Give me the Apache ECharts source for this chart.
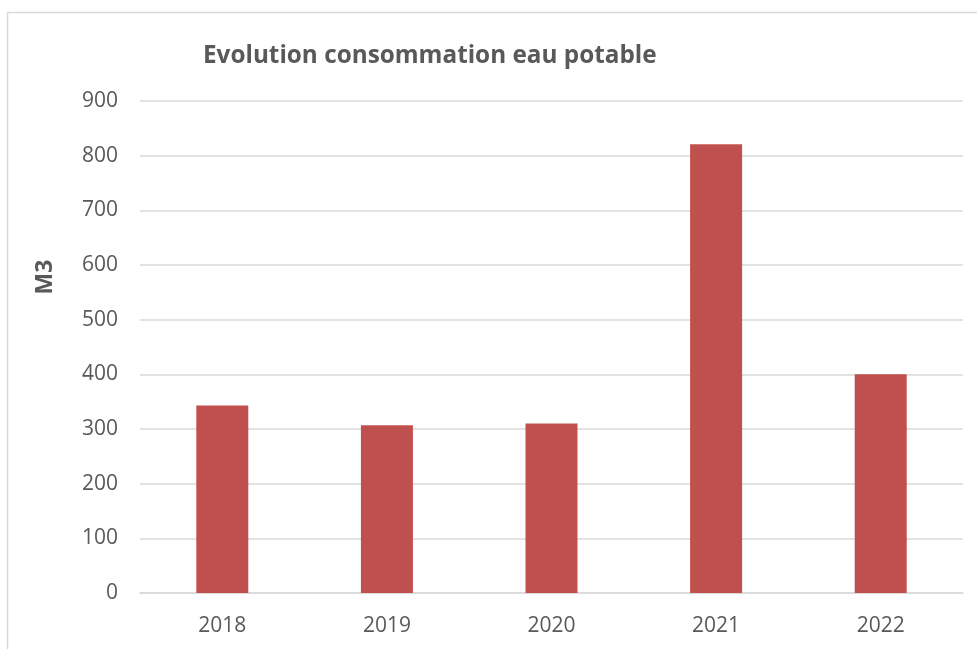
<!DOCTYPE html>
<html>
<head>
<meta charset="utf-8">
<script src="https://cdn.jsdelivr.net/npm/echarts@6/dist/echarts.min.js"></script>
<style>
  html, body { margin: 0; padding: 0; background: #fff; }
  #main { width: 977px; height: 649px; }
</style>
</head>
<body>
<div id="main"></div>
<script>
  // données
  var years = ['2018', '2019', '2020', '2021', '2022'];
  var consommation = [343, 307, 310, 821, 400];
  var unite = 'M3';

  var myChart = echarts.init(document.getElementById('main'));
  myChart.setOption({
    animation: false,
    title: {
      text: 'Evolution consommation eau potable',
      left: 198,
      top: 39,
      textStyle: { fontFamily: 'Open Sans', fontWeight: 'bold', fontSize: 24.3, color: '#595959' }
    },
    graphic: [{
      type: 'rect',
      shape: { x: 7.5, y: 12.5, width: 1000, height: 1000 },
      style: { fill: 'none', stroke: '#D9D9D9', lineWidth: 1.5 },
      silent: true
    }, {
      // titre de l'axe vertical
      type: 'text',
      x: 45,
      y: 277,
      rotation: Math.PI / 2,
      style: {
        text: unite,
        fontFamily: 'Open Sans',
        fontWeight: 'bold',
        fontSize: 23,
        fill: '#595959',
        align: 'center',
        verticalAlign: 'middle'
      },
      silent: true
    }],
    grid: { left: 140, right: 14, top: 101, bottom: 56 },
    xAxis: {
      type: 'category',
      data: years,
      axisTick: { show: false },
      axisLine: { lineStyle: { color: '#D9D9D9', width: 1.5 } },
      axisLabel: { color: '#595959', fontFamily: 'Open Sans', fontSize: 21, margin: 23 }
    },
    yAxis: {
      type: 'value',
      min: 0,
      max: 900,
      interval: 100,
      axisLine: { show: false },
      axisTick: { show: false },
      splitLine: { lineStyle: { color: '#D9D9D9', width: 1.5 } },
      axisLabel: { color: '#595959', fontFamily: 'Open Sans', fontSize: 21, margin: 22 }
    },
    series: [{
      type: 'bar',
      data: consommation,
      barWidth: 52,
      itemStyle: { color: '#C0504D' }
    }]
  });
</script>
</body>
</html>
